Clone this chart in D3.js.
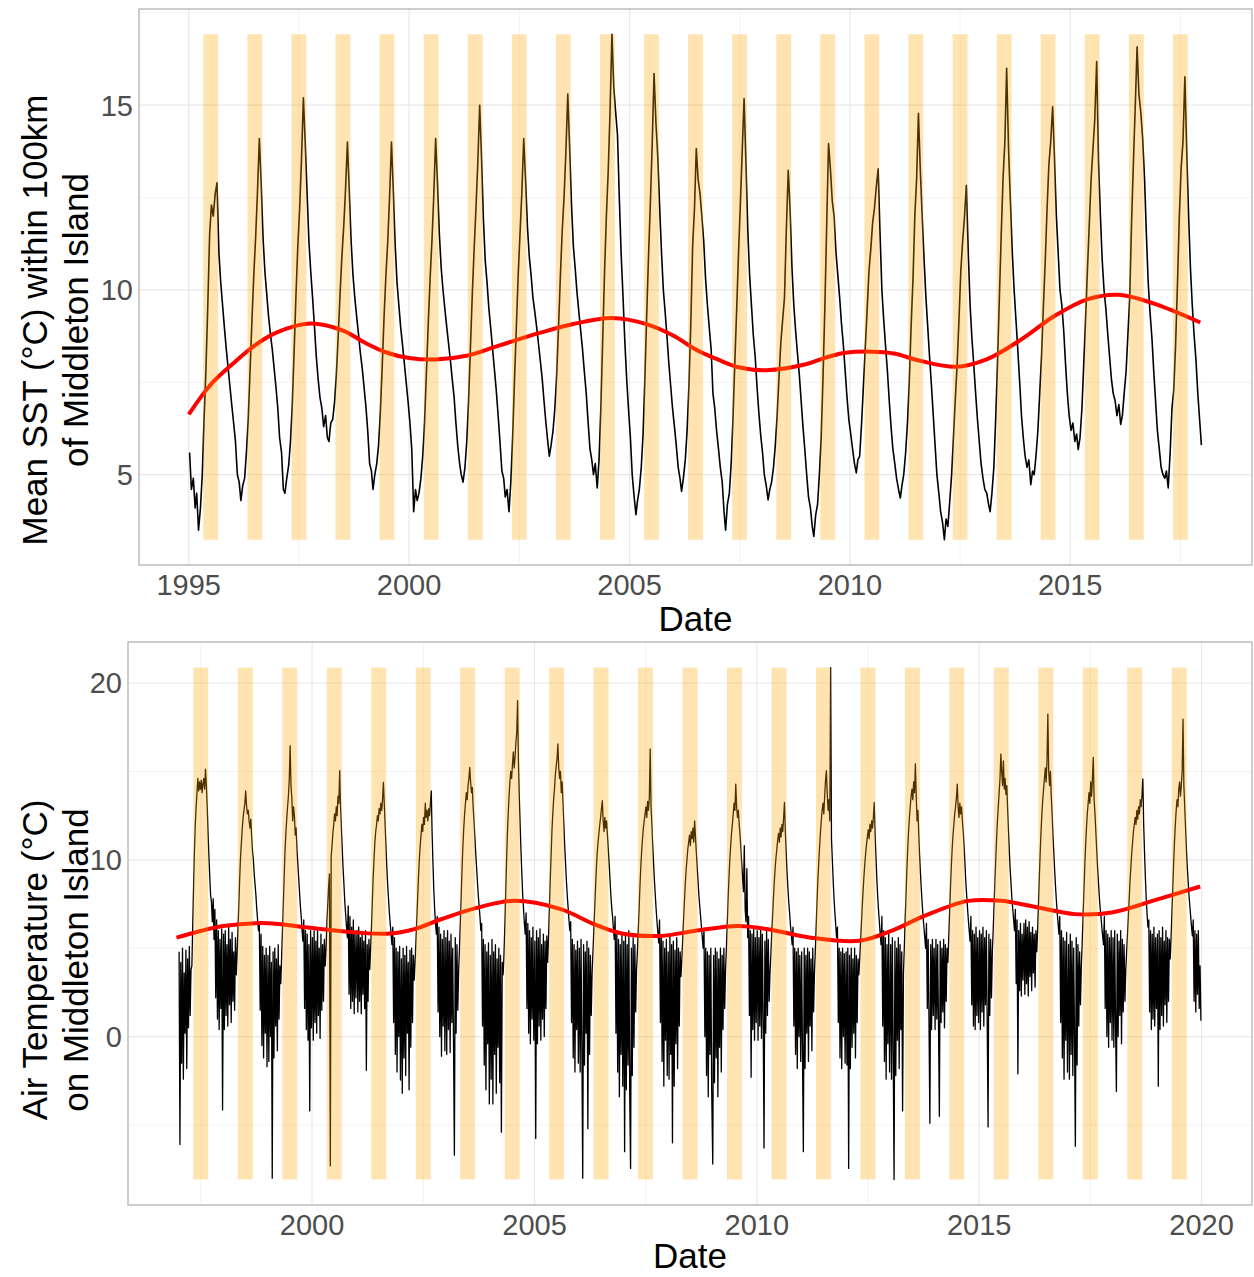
<!DOCTYPE html>
<html>
<head>
<meta charset="utf-8">
<script src="https://cdn.jsdelivr.net/npm/d3@7"></script>
<style>
  body { margin: 0; background: #fff; }
  svg { display: block; }
  text { font-family: "Liberation Sans", Arial, sans-serif; }
</style>
</head>
<body>
<svg id="chart" width="1254" height="1277"></svg>
<script>
// ---- Sea surface temperature: semi-monthly values (8th and 23rd of each month), one row per year
const sstFirstYear = 1995;
const sstValues = [
  [5.6,4.6,4.9,4.1,4.5,3.5,4.1,5.0,6.5,7.8,9.6,11.5,12.3,12.0,12.6,12.9,11.0,10.2,9.6,9.0,8.4,7.9,7.4,6.9],
  [6.4,5.9,5.0,4.8,4.3,4.7,4.9,5.6,6.5,7.8,9.2,10.4,11.4,12.6,14.1,12.9,11.4,10.5,9.9,9.3,8.8,8.4,7.9,7.4],
  [6.8,6.0,5.6,4.6,4.5,4.9,5.25,5.9,6.9,8.3,9.9,11.2,12.2,13.5,15.2,14.0,12.6,11.3,10.5,9.8,9.0,8.2,7.6,7.1],
  [6.8,6.3,6.6,6.0,5.9,6.4,6.5,6.95,7.7,8.7,9.9,10.9,11.7,12.7,14.0,12.7,11.3,10.4,9.8,9.3,8.8,8.3,7.9,7.4],
  [6.85,6.2,5.3,5.1,4.6,5.0,5.3,5.8,6.7,7.9,9.3,10.4,11.3,12.5,14.0,12.7,11.2,10.2,9.6,9.0,8.5,8.0,7.5,7.0],
  [6.4,5.7,4.0,4.6,4.3,4.5,4.9,5.5,6.4,7.7,9.1,10.3,11.3,12.5,14.1,12.9,11.5,10.6,10.0,9.5,9.0,8.55,8.1,7.6],
  [7.1,6.4,5.75,5.3,5.0,4.8,5.2,5.9,7.0,8.4,9.9,11.1,12.2,13.4,15.0,13.6,11.9,10.8,10.2,9.5,8.95,8.4,7.85,7.3],
  [6.6,5.9,5.1,4.9,4.4,4.6,4.0,4.8,6.0,7.5,9.0,10.4,11.5,12.6,14.1,13.0,11.7,10.9,10.4,9.8,9.4,9.0,8.55,8.1],
  [7.6,7.0,6.4,5.9,5.5,5.8,6.2,6.8,7.7,8.95,10.4,11.6,12.5,13.7,15.3,13.9,12.3,11.2,10.6,9.95,9.4,8.9,8.4,7.8],
  [7.2,6.45,5.7,5.4,5.0,5.3,4.64,5.4,6.8,8.6,10.5,12.0,13.2,14.8,16.92,15.5,14.8,14.2,12.5,11.0,9.8,8.6,7.6,6.8],
  [6.0,5.0,4.4,3.92,4.3,4.6,5.2,6.1,7.6,9.3,11.0,12.4,14.0,15.86,14.5,13.6,12.2,11.0,10.0,9.4,8.7,8.0,7.4,6.8],
  [6.3,5.8,5.2,4.9,4.55,4.9,5.4,6.2,7.4,9.0,11.2,12.2,13.83,13.0,12.6,12.0,11.3,10.3,9.6,9.0,8.4,7.2,6.8,6.2],
  [5.7,5.2,4.8,4.0,3.5,4.2,4.5,5.3,6.5,8.0,9.5,11.0,12.3,13.7,15.18,13.5,11.6,10.4,9.6,8.8,8.2,7.4,6.7,6.1],
  [5.6,5.0,4.7,4.32,4.6,4.8,5.2,5.8,6.6,7.6,8.6,9.2,9.8,11.6,13.24,12.2,10.6,9.6,8.9,8.3,7.7,7.0,6.3,5.7],
  [5.0,4.4,4.1,3.6,3.33,3.9,4.2,5.0,6.0,7.6,9.6,11.8,13.96,13.3,12.4,12.0,11.0,10.4,9.8,9.1,8.5,7.8,7.1,6.5],
  [6.1,5.7,5.3,5.05,5.4,5.5,6.4,7.4,8.4,9.4,10.5,11.1,11.8,12.2,12.8,13.28,11.5,10.0,9.2,8.5,7.8,7.0,6.3,5.7],
  [5.3,4.9,4.6,4.37,4.7,5.0,5.6,6.4,7.5,9.0,10.3,12.0,13.0,14.78,13.2,12.0,10.8,9.8,9.0,8.2,7.4,6.6,5.8,5.0],
  [4.5,4.0,3.7,3.24,3.8,3.6,4.3,5.0,6.0,7.0,8.0,9.2,10.5,11.3,12.0,12.83,11.0,9.6,8.7,8.0,7.2,6.5,5.9,5.3],
  [4.9,4.6,4.5,4.2,4.0,4.5,5.2,6.5,8.0,9.7,11.5,13.0,14.0,16.0,13.8,12.4,11.0,10.0,9.2,8.4,7.5,6.6,6.0,5.5],
  [5.2,5.4,4.73,5.1,5.0,5.5,6.2,7.2,8.2,9.5,10.8,12.2,13.4,14.0,14.96,13.6,12.0,11.0,10.0,9.6,8.9,8.0,7.2,6.6],
  [6.2,6.4,5.9,6.1,5.68,6.0,6.8,8.0,9.2,10.5,11.8,13.0,13.8,14.6,16.18,13.5,12.0,10.8,10.0,9.5,8.8,8.2,7.6,7.2],
  [7.0,6.6,6.9,6.36,6.6,7.2,7.8,8.8,9.8,11.8,13.5,15.0,16.58,15.3,14.8,14.1,13.0,11.5,10.2,9.4,8.7,7.8,7.0,6.2],
  [5.7,5.2,5.0,4.9,5.1,4.64,5.6,6.8,7.3,8.5,10.2,12.0,13.3,14.0,15.77,13.8,12.0,10.6,9.6,8.8,8.1,7.2,6.5,5.8]
];

// Smoothed SST trend (decimal year, °C)
const sstTrendYear  = [1995.0,1995.5,1996.0,1996.5,1997.0,1997.75,1998.5,1999.0,1999.5,2000.0,2000.6,2001.3,2002.0,2003.0,2003.7,2004.6,2005.4,2006.0,2006.5,2007.0,2007.5,2008.1,2009.0,2009.45,2009.9,2010.5,2011.0,2011.6,2012.4,2013.1,2013.9,2014.65,2015.4,2016.1,2016.9,2017.95];
const sstTrendValue = [6.63,7.44,8.0,8.5,8.85,9.09,8.9,8.57,8.3,8.16,8.12,8.22,8.48,8.85,9.07,9.24,9.07,8.76,8.39,8.12,7.9,7.83,7.99,8.17,8.3,8.33,8.28,8.08,7.92,8.12,8.67,9.3,9.75,9.87,9.63,9.12];

// ---- Air temperature: weekly values (from 4 January), one row per year
const airFirstYear = 1997;
const airValues = [
  [4.8,-6.1,4.2,-1.5,5.0,-2.4,3.6,0.2,4.9,-1.8,4.4,0.5,5.1,1.2,3.8, 4.0,6.3,8.5,10.5,12.0,13.0,13.8,14.6,13.9,14.4,14.0,14.5,13.8,14.3,14.6,14.0,15.13,14.2,13.0,11.5,10.2,9.0,8.0,7.6,6.5,7.8,5.5, 7.2,2.2,6.6,1.0,6.0,0.4,5.5,1.6,6.1,-4.15],
  [5.8,0.4,6.0,1.2,5.2,0.6,6.2,1.8,5.5,0.8,5.9,2.0,4.8,1.5,5.6, 3.5,4.8,6.2,7.5,9.0,10.2,11.0,11.8,12.4,12.8,13.2,13.9,13.06,12.6,12.8,12.2,11.8,12.3,11.3,10.5,10.0,9.2,8.6,8.0,7.2,6.6,6.0, 6.4,1.5,5.8,-0.5,5.1,-1.2,4.6,0.2,5.0,-1.7],
  [4.6,-1.4,5.1,0.0,4.2,-8.0,4.8,-1.2,5.0,0.6,4.4,-0.8,5.2,1.0,4.0, 3.0,4.5,6.0,7.5,9.0,10.5,11.5,12.3,13.0,13.6,14.6,16.45,14.2,13.5,12.2,13.0,12.5,11.4,11.8,10.6,9.8,9.0,8.2,7.4,6.8,6.0,5.4, 6.6,1.6,6.0,0.4,5.8,-0.2,5.2,-4.2,6.0,0.5],
  [5.6,-0.2,6.0,0.8,5.4,0.2,6.1,1.2,5.0,-0.1,5.8,1.5,5.2,2.0,5.5, 4.0,5.0,6.5,7.5,8.5,9.2,-7.3,10.2,10.8,11.5,12.0,12.6,12.2,13.0,12.5,13.6,13.2,15.04,13.0,11.8,10.6,9.5,8.6,7.6,6.9,6.2,5.6, 7.4,2.4,6.8,1.6,6.2,2.0,6.6,1.3,5.9,2.2],
  [6.0,1.4,6.2,2.0,5.6,1.3,5.9,2.4,5.4,1.6,6.0,-1.9,5.2,2.0,5.5, 3.8,5.0,6.2,7.6,9.0,10.0,11.0,11.6,12.0,12.5,12.2,12.9,12.6,13.2,12.8,13.4,14.38,13.2,12.0,10.8,9.6,8.6,7.8,7.0,6.4,5.8,5.2, 6.2,0.8,5.6,-1.0,5.0,-2.0,4.8,0.0,5.1,-2.45],
  [4.4,-3.2,5.0,-1.2,4.6,-2.2,5.1,0.2,4.2,-3.0,4.9,-0.6,5.0,0.8,4.6, 3.2,4.2,5.4,6.6,7.8,9.0,10.0,10.8,11.4,12.0,11.6,12.4,12.0,13.2,12.4,12.8,12.2,12.9,12.5,13.2,13.9,11.5,9.8,8.3,7.2,6.4,5.8, 6.8,1.4,6.2,0.0,5.8,-1.1,5.5,0.6,6.0,-0.8],
  [5.6,-1.0,6.0,0.4,5.4,-0.9,5.8,0.8,5.0,-0.5,-6.7,5.6,0.2,5.2,1.5, 3.8,5.0,6.5,8.0,9.5,10.8,11.8,12.6,13.2,13.8,13.4,14.2,14.6,15.22,14.4,13.8,14.1,13.0,12.2,11.3,10.4,9.6,8.8,8.0,7.4,6.8,6.0, 6.4,0.6,5.5,-1.6,5.2,-3.0,4.8,-0.4,5.3,-3.8],
  [4.6,-2.4,5.5,-3.8,4.8,-1.0,5.2,-3.2,4.4,-0.6,5.0,-2.6,4.6,-5.4,4.2, 3.5,4.6,6.2,8.0,9.8,11.4,12.6,13.6,14.4,15.0,14.6,15.4,16.1,15.2,15.8,16.6,17.2,19.0,15.5,13.6,12.0,10.5,9.2,8.0,7.2,6.4,5.8, 7.0,1.6,6.4,0.2,6.0,-0.4,5.6,1.0,6.2,-0.2],
  [5.4,-5.75,6.0,-0.4,5.6,0.6,6.1,-0.2,5.2,1.0,5.8,0.0,5.4,1.6,5.7, 4.2,5.6,7.2,8.8,10.2,11.6,12.6,13.4,14.0,14.8,15.3,15.7,16.55,15.2,14.6,15.0,13.8,14.4,13.2,12.0,10.8,9.8,8.8,8.0,7.3,6.6,6.0, 6.5,0.8,5.5,-1.2,5.2,-2.0,4.9,0.4,5.4,-1.5],
  [5.0,-2.0,5.5,-0.8,-8.0,5.2,-1.6,4.8,0.2,5.4,-5.2,5.0,-1.0,4.6,1.2, 3.6,4.8,6.0,7.2,8.4,9.5,10.4,11.0,11.5,12.0,12.4,12.9,13.34,12.2,11.6,12.4,11.8,12.2,11.4,10.6,9.8,8.9,8.0,7.3,6.8,6.1,5.5, 6.8,0.2,6.0,-2.0,5.5,-3.4,5.2,-1.0,5.8,-2.8],
  [5.4,-6.5,5.8,-3.0,5.2,-1.6,6.0,-3.4,-7.45,5.0,-2.2,5.6,-0.6,5.2,1.4, 3.8,4.8,6.0,7.2,8.5,9.6,10.5,11.2,11.8,12.2,12.6,13.0,12.4,13.3,12.8,13.5,16.27,13.0,12.0,10.8,9.8,8.8,8.0,7.2,6.5,5.9,5.3, 6.6,0.8,5.7,-1.4,5.4,-2.8,5.0,-0.2,5.5,-2.2],
  [4.8,-2.4,5.7,-1.0,5.2,-6.0,5.4,-2.8,4.9,-0.4,5.6,-1.8,5.0,0.6,4.8, 3.4,4.4,5.5,6.6,7.6,8.6,9.4,10.0,10.6,11.0,11.4,10.8,11.6,11.2,11.8,11.0,12.2,11.3,10.4,9.6,8.8,8.0,7.4,6.8,6.2,5.6,5.0, 6.0,0.0,5.0,-2.2,4.8,-3.4,4.6,-1.0,5.0,-3.0],
  [-7.2,4.6,-2.6,5.0,-1.2,4.8,-3.4,4.4,-0.6,5.0,-2.0,4.6,0.4,5.0,1.6, 3.8,5.0,6.4,7.8,9.0,10.0,10.8,11.5,12.0,12.6,13.2,12.8,14.28,13.0,12.4,12.8,12.0,11.4,10.6,9.8,9.0,8.2,10.8,7.2,6.5,9.5,5.6, 6.8,1.2,6.0,-2.3,5.8,0.4,6.2,-0.2,5.6,0.8],
  [6.0,-0.2,5.6,0.6,6.1,-0.1,5.8,1.0,-6.3,5.4,0.2,6.0,1.2,5.5,2.0, 3.6,4.6,5.8,6.8,7.8,8.7,9.5,10.1,10.6,11.1,11.5,11.0,11.8,11.3,12.0,11.6,12.4,13.25,11.6,10.4,9.3,8.4,7.6,7.0,6.3,5.8,5.2, 6.2,0.6,5.0,-1.0,4.8,-1.8,5.0,0.0,4.6,-1.4],
  [4.8,-1.2,-6.5,5.0,-1.8,4.6,0.2,5.0,-1.4,4.8,0.6,4.4,-0.8,5.0,1.4, 3.6,4.8,6.2,7.6,8.8,9.8,10.7,11.5,12.2,12.8,13.2,12.6,13.6,14.5,15.04,13.8,12.8,13.4,12.2,20.87,11.2,10.0,8.8,7.8,7.0,6.3,5.6, 6.2,0.8,5.0,-1.2,4.8,-1.8,5.0,0.0,4.7,-1.5],
  [4.8,-1.6,5.0,-7.45,4.6,-1.8,5.0,-0.6,4.4,0.2,5.0,-1.2,4.6,0.8,4.4, 3.5,4.4,5.4,6.4,7.4,8.3,9.1,9.8,10.4,10.9,11.3,11.7,11.2,12.0,11.6,12.2,11.8,12.4,13.25,11.5,10.2,9.0,8.0,7.2,6.5,5.8,5.2, 6.8,0.6,6.0,-1.4,5.6,-2.4,5.2,-0.4,5.8,-2.0],
  [5.2,-2.4,5.6,-1.0,-8.07,5.4,-2.2,5.0,-0.2,5.6,-1.8,5.2,0.4,4.8,-4.2, 3.6,5.0,6.6,8.0,9.4,10.6,11.6,12.4,13.0,13.6,14.0,13.4,14.4,13.8,15.42,13.6,12.2,12.8,11.4,10.2,9.2,8.3,7.5,6.8,6.2,5.6,5.0, 6.4,1.6,5.5,0.8,-4.9,5.2,0.4,5.5,1.2,5.0],
  [0.4,5.5,1.0,5.2,0.6,-4.5,5.4,0.8,5.0,1.4,5.5,0.5,5.2,2.0,5.0, 4.2,5.6,7.0,8.4,9.6,10.6,11.4,12.0,12.6,13.0,13.5,14.28,13.0,12.4,13.2,12.6,13.0,12.2,11.6,10.8,9.8,8.8,8.0,7.3,6.6,6.0,5.4, 6.8,1.8,6.0,0.6,5.8,0.4,6.2,1.2,5.6,0.8],
  [6.0,0.4,5.8,1.4,6.2,0.6,5.6,1.8,6.0,0.8,-5.1,5.8,1.2,5.5,2.2, 4.8,6.0,7.4,8.8,10.0,11.2,12.2,13.0,13.8,14.6,15.98,15.0,14.2,15.6,14.0,14.6,13.7,14.2,12.8,11.6,10.4,9.4,8.6,7.8,7.2,6.6,6.0, 7.2,3.0,6.6,-2.1,6.0,2.6,6.4,2.3,5.8,3.2],
  [6.4,2.4,6.6,3.0,6.2,2.3,6.5,3.4,5.9,2.6,6.2,3.6,5.8,2.8,6.0, 4.8,6.0,7.5,9.0,10.4,11.6,12.6,13.4,14.0,14.6,15.2,14.4,15.6,18.24,15.0,14.2,15.0,13.6,12.6,11.4,10.4,9.4,8.5,7.7,7.0,6.4,5.8, 6.8,0.8,6.0,-1.2,5.6,-2.4,5.4,-0.2,5.9,-2.0],
  [5.2,-2.4,5.8,-1.0,5.4,-2.2,5.0,0.0,-6.2,5.6,-1.6,5.2,0.6,4.8,1.8, 4.0,5.3,6.8,8.2,9.6,10.8,11.8,12.6,13.2,13.8,13.2,14.4,13.6,14.6,15.79,13.4,12.6,11.6,10.6,9.6,8.8,8.0,7.3,6.8,6.2,5.7,5.2, 6.8,1.6,6.0,0.0,5.8,-0.6,5.6,0.8,6.0,-0.2],
  [5.6,-0.6,6.0,0.6,-3.1,5.8,0.0,5.4,1.2,6.0,-0.4,5.5,1.4,5.2,2.0, 3.8,4.8,5.8,6.8,7.8,8.8,9.6,10.4,11.0,11.6,12.0,12.4,12.0,12.8,12.3,13.0,12.6,13.4,13.0,13.7,14.57,12.0,10.4,9.0,7.8,6.9,6.2, 6.6,1.4,6.0,0.4,5.8,1.0,6.2,0.6,5.6,1.6],
  [5.8,-2.8,6.0,0.4,5.6,1.2,6.2,0.6,5.4,1.8,6.0,0.8,5.6,2.0,5.5, 4.4,5.6,7.0,8.4,9.8,11.0,12.0,12.8,13.4,13.0,14.0,14.4,13.6,14.2,15.0,17.96,14.2,13.0,11.8,10.6,9.6,8.8,8.0,7.4,6.8,6.2,5.7, 6.6,2.0,6.0,1.4,5.8,2.4,6.0,1.6,4.0,0.9]
];

// Smoothed air-temperature trend (decimal year, °C)
const airTrendYear  = [1996.95,1998.0,1999.0,1999.9,2001.0,2001.76,2002.3,2002.9,2003.72,2004.54,2005.59,2006.34,2006.94,2007.84,2008.6,2009.57,2010.25,2011.22,2012.3,2013.02,2013.77,2014.75,2015.5,2016.33,2017.15,2017.98,2019.03,2019.97];
const airTrendValue = [5.6,6.26,6.42,6.17,5.89,5.83,6.08,6.64,7.3,7.68,7.21,6.36,5.85,5.7,5.98,6.26,6.08,5.6,5.42,5.98,6.83,7.68,7.68,7.3,6.93,7.02,7.78,8.49];

// Shaded season each year: 1 May to 1 September
const seasonStart = { month: 4, day: 1 };
const seasonEnd   = { month: 8, day: 1 };

// Axis labels
const sstTickYears = [1995, 2000, 2005, 2010, 2015];
const sstTickValues = [5, 10, 15];
const airTickYears = [2000, 2005, 2010, 2015, 2020];
const airTickValues = [0, 10, 20];
const xTitle = "Date";
const sstTitle = ["Mean SST (\u00B0C) within 100km", "of Middleton Island"];
const airTitle = ["Air Temperature (\u00B0C)", "on Middleton Island"];

// ---- helpers
function decimalYearToDate(y) {
  const yr = Math.floor(y);
  const start = new Date(yr, 0, 1), end = new Date(yr + 1, 0, 1);
  return new Date(start.getTime() + (y - yr) * (end - start));
}

const sstSeries = [];
sstValues.forEach((row, i) => {
  const yr = sstFirstYear + i;
  row.forEach((v, k) => {
    sstSeries.push({ date: new Date(yr, Math.floor(k / 2), k % 2 ? 23 : 8), value: v });
  });
});

const airSeries = [];
airValues.forEach((row, i) => {
  const yr = airFirstYear + i;
  row.forEach((v, w) => airSeries.push({ date: new Date(yr, 0, 4 + 7 * w), value: v }));
});

const sstTrend = sstTrendYear.map((y, i) => ({ date: decimalYearToDate(y), value: sstTrendValue[i] }));
const airTrend = airTrendYear.map((y, i) => ({ date: decimalYearToDate(y), value: airTrendValue[i] }));

const svg = d3.select("#chart");
const FONT_TICK = 29, FONT_TITLE = 35;

function drawPanel(cfg) {
  const { left, right, top, bottom } = cfg.box;
  const g = svg.append("g");

  const dExt = d3.extent(cfg.series, d => d.date);
  const dSpan = dExt[1] - dExt[0];
  const x = d3.scaleTime()
    .domain([new Date(+dExt[0] - 0.05 * dSpan), new Date(+dExt[1] + 0.05 * dSpan)])
    .range([left, right]);

  const vExt = d3.extent(cfg.series, d => d.value);
  const vSpan = vExt[1] - vExt[0];
  const y = d3.scaleLinear()
    .domain([vExt[0] - 0.05 * vSpan, vExt[1] + 0.05 * vSpan])
    .range([bottom, top]);

  // grid
  const grid = g.append("g");
  const majorX = cfg.tickYears.map(yr => new Date(yr, 0, 1));
  const minorX = [];
  for (let yr = cfg.tickYears[0] - 5; yr <= cfg.tickYears[cfg.tickYears.length - 1] + 5; yr += 5) {
    const m = new Date((new Date(yr, 0, 1).getTime() + new Date(yr + 5, 0, 1).getTime()) / 2);
    if (m >= x.domain()[0] && m <= x.domain()[1]) minorX.push(m);
  }
  const step = cfg.tickValues[1] - cfg.tickValues[0];
  const minorY = [];
  for (let v = cfg.tickValues[0] - step / 2; v <= cfg.tickValues[cfg.tickValues.length - 1] + step; v += step) {
    if (v >= y.domain()[0] && v <= y.domain()[1]) minorY.push(v);
  }
  grid.selectAll(".mx").data(minorX).join("line")
    .attr("x1", d => x(d)).attr("x2", d => x(d)).attr("y1", top).attr("y2", bottom)
    .attr("stroke", "#f3f3f3").attr("stroke-width", 1);
  grid.selectAll(".my").data(minorY).join("line")
    .attr("x1", left).attr("x2", right).attr("y1", d => y(d)).attr("y2", d => y(d))
    .attr("stroke", "#f3f3f3").attr("stroke-width", 1);
  grid.selectAll(".Mx").data(majorX.filter(d => d >= x.domain()[0] && d <= x.domain()[1])).join("line")
    .attr("x1", d => x(d)).attr("x2", d => x(d)).attr("y1", top).attr("y2", bottom)
    .attr("stroke", "#e9e9e9").attr("stroke-width", 1.2);
  grid.selectAll(".My").data(cfg.tickValues).join("line")
    .attr("x1", left).attr("x2", right).attr("y1", d => y(d)).attr("y2", d => y(d))
    .attr("stroke", "#e9e9e9").attr("stroke-width", 1.2);

  // series
  g.append("path").datum(cfg.series)
    .attr("fill", "none").attr("stroke", "#000").attr("stroke-width", cfg.lineWidth)
    .attr("stroke-linejoin", "round")
    .attr("d", d3.line().x(d => x(d.date)).y(d => y(d.value)));

  // smoothed trend
  g.append("path").datum(cfg.trend)
    .attr("fill", "none").attr("stroke", "#ff0000").attr("stroke-width", 4)
    .attr("d", d3.line().curve(d3.curveCatmullRom.alpha(0.5)).x(d => x(d.date)).y(d => y(d.value)));

  // seasonal bands drawn over the data, translucent
  const yrs = d3.range(cfg.firstYear, cfg.firstYear + cfg.nYears);
  g.append("g").selectAll("rect").data(yrs).join("rect")
    .attr("x", yr => x(new Date(yr, seasonStart.month, seasonStart.day)))
    .attr("width", yr => x(new Date(yr, seasonEnd.month, seasonEnd.day)) - x(new Date(yr, seasonStart.month, seasonStart.day)))
    .attr("y", y(vExt[1]))
    .attr("height", y(vExt[0]) - y(vExt[1]))
    .attr("fill", "#ffa500").attr("fill-opacity", 0.3);

  // panel border
  g.append("rect").attr("x", left).attr("y", top).attr("width", right - left).attr("height", bottom - top)
    .attr("fill", "none").attr("stroke", "#b3b3b3").attr("stroke-width", 1.3);

  // tick labels
  g.append("g").selectAll("text").data(cfg.tickYears).join("text")
    .attr("x", yr => x(new Date(yr, 0, 1))).attr("y", bottom + 30)
    .attr("text-anchor", "middle").attr("font-size", FONT_TICK).attr("fill", "#4d4d4d")
    .text(yr => String(yr));
  g.append("g").selectAll("text").data(cfg.tickValues).join("text")
    .attr("x", left - 6).attr("y", v => y(v)).attr("dy", "0.36em")
    .attr("text-anchor", "end").attr("font-size", FONT_TICK).attr("fill", "#4d4d4d")
    .text(v => String(v));

  // axis titles
  g.append("text").attr("x", (left + right) / 2).attr("y", cfg.xTitleY)
    .attr("text-anchor", "middle").attr("font-size", FONT_TITLE).attr("fill", "#000").text(xTitle);
  const yt = g.append("text")
    .attr("transform", `translate(0,${cfg.yTitleCenter}) rotate(-90)`)
    .attr("text-anchor", "middle").attr("font-size", FONT_TITLE).attr("fill", "#000");
  cfg.yTitle.forEach((line, i) => {
    yt.append("tspan").attr("x", 0).attr("y", cfg.yTitleBaselines[i]).text(line);
  });
}

drawPanel({
  box: { left: 139, right: 1252, top: 9, bottom: 565 },
  series: sstSeries, trend: sstTrend, lineWidth: 1.6,
  firstYear: 1995, nYears: sstValues.length,
  tickYears: sstTickYears, tickValues: sstTickValues,
  xTitleY: 631, yTitle: sstTitle, yTitleCenter: 320, yTitleBaselines: [47, 88]
});

drawPanel({
  box: { left: 128, right: 1252, top: 642, bottom: 1205 },
  series: airSeries, trend: airTrend, lineWidth: 1.3,
  firstYear: 1997, nYears: airValues.length,
  tickYears: airTickYears, tickValues: airTickValues,
  xTitleY: 1268, yTitle: airTitle, yTitleCenter: 960, yTitleBaselines: [47, 88]
});
</script>
</body>
</html>
